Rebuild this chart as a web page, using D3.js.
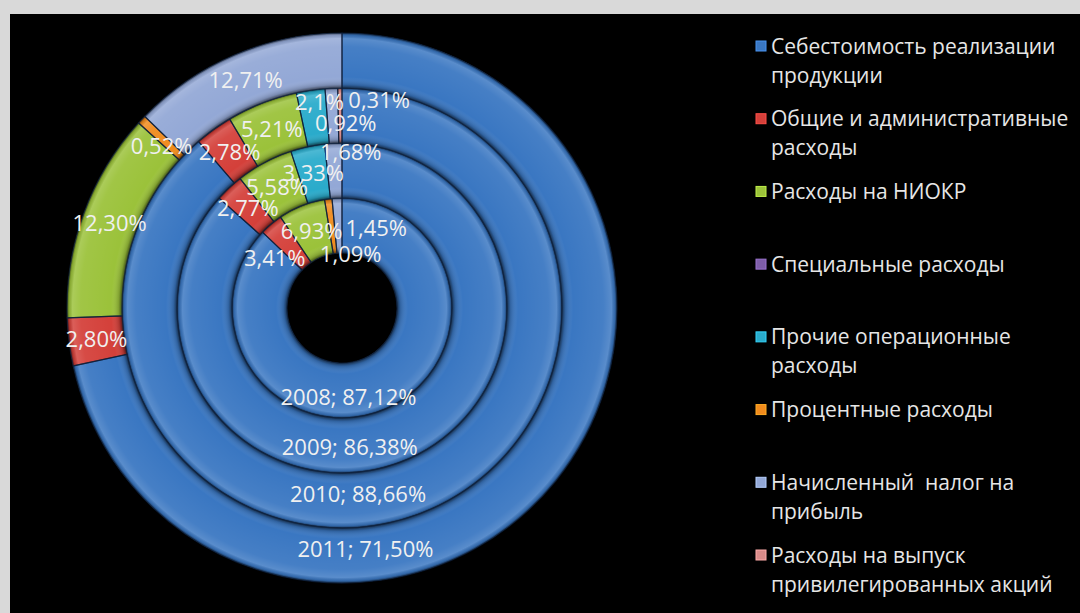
<!DOCTYPE html>
<html>
<head>
<meta charset="utf-8">
<script src="https://cdn.jsdelivr.net/npm/d3@7"></script>
<style>
  html, body { margin: 0; padding: 0; background: #d9d9d9; }
  svg { display: block; }
  text { white-space: pre; }
</style>
</head>
<body>
<svg id="chart" width="1080" height="613"></svg>
<script>
// Years, innermost ring first
const years = ["2008", "2009", "2010", "2011"];

// Expense categories (legend order, also clockwise order in every ring)
const categories = [
  "Себестоимость реализации\nпродукции",
  "Общие и административные\nрасходы",
  "Расходы на НИОКР",
  "Специальные расходы",
  "Прочие операционные\nрасходы",
  "Процентные расходы",
  "Начисленный  налог на\nприбыль",
  "Расходы на выпуск\nпривилегированных акций"
];

// Share of each category per year, in percent (as printed)
const values2008 = ["87,12", "3,41", "6,93", "0", "0",    "1,09", "1,45",  "0"];
const values2009 = ["86,38", "2,77", "5,58", "0", "3,33", "0",    "1,68",  "0"];
const values2010 = ["88,66", "2,78", "5,21", "0", "2,1",  "0",    "0,92",  "0,31"];
const values2011 = ["71,50", "2,80", "12,30","0", "0",    "0,52", "12,71", "0"];

const colors = ["#3a77c2", "#d4403a", "#9bc23a", "#7e5ea8", "#2aabcb", "#f08b1d", "#93a8d6", "#d98b89"];

const rings = [values2008, values2009, values2010, values2011];
const num = s => +s.replace(",", ".");

const W = 1080, H = 613;
const svg = d3.select("#chart");
const defs = svg.append("defs");

// black panel
svg.append("rect").attr("x", 10).attr("y", 14).attr("width", W - 10).attr("height", H - 14).attr("fill", "#000");

const cx = 342, cy = 308;
const g = svg.append("g").attr("transform", `translate(${cx},${cy})`);
const ringLayer = g.append("g");
const labelLayer = g.append("g");

const radius = d3.scaleLinear().domain([0, years.length]).range([55, 275]);
const color = d3.scaleOrdinal().domain(categories).range(colors);
const pie = d3.pie().sort(null).value(d => d.v);

// label nudges relative to the slice centroid (layout only)
const labelNudge = {
  "2008:0": [0, 7], "2008:1": [-14, 13], "2008:5": [19, 28], "2008:6": [38, 2],
  "2009:0": [-3, 2], "2009:6": [16, -19],
  "2010:0": [1, -6], "2010:4": [5, -15], "2010:6": [13, 7], "2010:7": [39, -15],
  "2011:0": [4, -6], "2011:5": [0, 8]
};
const mainLabelAngle = 175.5 * Math.PI / 180;

rings.forEach((vals, ri) => {
  const r0 = radius(ri), r1 = radius(ri + 1);
  const data = vals.map((s, ci) => ({ s, v: num(s), ci, cat: categories[ci] }));
  const arcs = pie(data).filter(a => a.data.v > 0);
  const arc = d3.arc().innerRadius(r0).outerRadius(r1);

  const ringG = ringLayer.append("g");
  ringG.selectAll("path.slice")
    .data(arcs)
    .join("path")
    .attr("class", "slice")
    .attr("d", arc)
    .attr("fill", d => color(d.data.cat));

  // bevel shading across the ring width
  const gid = "bevel" + ri;
  const f = r0 / r1;
  const grad = defs.append("radialGradient").attr("id", gid)
    .attr("gradientUnits", "userSpaceOnUse").attr("cx", 0).attr("cy", 0).attr("r", r1);
  [[0, "#000", 0.6], [0.06, "#000", 0.18], [0.2, "#fff", 0.0], [0.75, "#fff", 0.06],
   [0.9, "#fff", 0.16], [0.96, "#000", 0.12], [1, "#000", 0.55]].forEach(([t, c, o]) => {
    grad.append("stop").attr("offset", f + t * (1 - f)).attr("stop-color", c).attr("stop-opacity", o);
  });
  ringG.selectAll("path.shade")
    .data(arcs)
    .join("path")
    .attr("class", "shade")
    .attr("d", arc)
    .attr("fill", `url(#${gid})`);

  // slice borders
  ringG.selectAll("path.edge")
    .data(arcs)
    .join("path")
    .attr("class", "edge")
    .attr("d", arc)
    .attr("fill", "none")
    .attr("stroke", "#0d1f3a")
    .attr("stroke-opacity", 0.75)
    .attr("stroke-width", 1.2);

  // data labels (drawn above every ring)
  const rm = (r0 + r1) / 2;
  labelLayer.append("g").selectAll("text")
    .data(arcs)
    .join("text")
    .attr("transform", d => {
      let x, y;
      if (d.data.ci === 0) {
        x = rm * Math.sin(mainLabelAngle);
        y = -rm * Math.cos(mainLabelAngle);
      } else {
        [x, y] = arc.centroid(d);
      }
      const n = labelNudge[years[ri] + ":" + d.data.ci] || [0, 0];
      return `translate(${x + n[0]},${y + n[1]})`;
    })
    .attr("text-anchor", "middle")
    .attr("dy", "0.36em")
    .attr("font-family", "'Open Sans', sans-serif")
    .attr("font-size", 22)
    .attr("fill", "#f0f0f0")
    .text(d => (d.data.ci === 0 ? years[ri] + "; " : "") + d.data.s + "%");
});

// legend
const legendY = d3.scaleLinear().domain([0, categories.length - 1]).range([46, 555]);
const legend = svg.append("g").attr("font-family", "'Open Sans', sans-serif").attr("font-size", 21);
const items = legend.selectAll("g").data(categories).join("g")
  .attr("transform", (d, i) => `translate(756,${legendY(i)})`);
items.append("rect")
  .attr("x", 0).attr("y", -5).attr("width", 10).attr("height", 10)
  .attr("fill", d => color(d))
  .attr("stroke", d => d3.color(color(d)).brighter(0.6))
  .attr("stroke-width", 1);
items.append("text")
  .attr("fill", "#e6e6e6")
  .selectAll("tspan")
  .data(d => d.split("\n"))
  .join("tspan")
  .attr("x", 15)
  .attr("y", (d, i) => i * 29)
  .attr("dy", "0.36em")
  .text(d => d);
</script>
</body>
</html>
